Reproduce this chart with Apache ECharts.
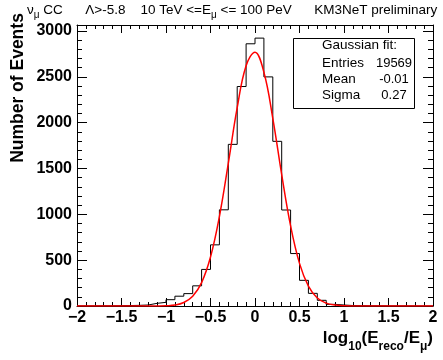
<!DOCTYPE html>
<html>
<head>
<meta charset="utf-8">
<script src="https://cdn.jsdelivr.net/npm/echarts@6/dist/echarts.min.js"></script>
<style>
  html, body { margin: 0; padding: 0; background: #fff; }
  #chart { width: 443px; height: 360px; }
</style>
</head>
<body>
<div id="chart"></div>
<script>
// histogram: 40 bins of 0.1 from -2 to 2
const binLow = -2;
const binWidth = 0.1;
const counts = [
  2, 2, 3, 3, 4, 5, 7, 11, 29, 40,
  69, 107, 135, 220, 399, 667, 1049, 1763, 2394, 2860,
  2922, 2499, 1796, 1047, 572, 280, 138, 62, 18, 11,
  5, 4, 3, 3, 2, 2, 2, 1, 1, 1
];

// red gaussian fit curve, every 0.1
const fitX = [
  -2, -1.5, -1.3, -1.2, -1.1, -1.0, -0.9, -0.8, -0.7, -0.6, -0.5, -0.4, -0.3, -0.2, -0.1,
  0, 0.1, 0.2, 0.3, 0.4, 0.5, 0.6, 0.7, 0.8, 0.9, 1.0, 1.1, 1.2, 1.3, 1.5, 2
];
const fitY = [
  0, 0, 0, 0.2, 1, 3, 10, 38, 106, 255, 534, 976, 1556, 2163, 2620,
  2768, 2549, 2047, 1433, 874, 465, 216, 87, 31, 10, 3, 1, 0.2, 0, 0, 0
];

// axes
const xMin = -2, xMax = 2, xStep = 0.5;
const yMin = 0, yMax = 3065, yStep = 500;

// stats box
const statsTitle = "Gaussian fit:";
const statsLabels = ["Entries", "Mean", "Sigma"];
const statsValues = ["19569", "-0.01", "0.27"];

const FONT = "Liberation Sans";

const histData = counts.map((c, i) => [+(binLow + i * binWidth).toFixed(2), c]);
histData.push([+(binLow + counts.length * binWidth).toFixed(2), counts[counts.length - 1]]);
const fitData = fitX.map((x, i) => [x, fitY[i]]);

// rich text with a dropped subscript
const subRich = (size, subSize, drop, weight) => ({
  m: { fontFamily: FONT, fontSize: size, fontWeight: weight, lineHeight: size, verticalAlign: "top", color: "#000" },
  s: { fontFamily: FONT, fontSize: subSize, fontWeight: weight, lineHeight: subSize, verticalAlign: "top", padding: [drop, 0, 0, 0], color: "#000" }
});

const axisCommon = (isX, show) => ({
  type: "value",
  min: isX ? xMin : yMin,
  max: isX ? xMax : yMax,
  interval: isX ? xStep : yStep,
  axisLine: { show: true, onZero: false, lineStyle: { color: "#000", width: 1 } },
  axisTick: { show: true, inside: true, length: isX ? 8 : 10, lineStyle: { color: "#000", width: 1 } },
  minorTick: { show: true, splitNumber: 5, length: isX ? 4 : 5, lineStyle: { color: "#000", width: 1 } },
  splitLine: { show: false },
  axisLabel: {
    show: show,
    margin: isX ? 4 : 5,
    color: "#000",
    fontFamily: FONT,
    fontSize: 16,
    fontWeight: "bold",
    formatter: (v) => {
      if (!isX && v % yStep !== 0) return "";
      return String(v).replace("-", "\u2212");
    }
  }
});

const graphic = [
  // top caption, one line
  {
    type: "text", left: 27, top: 3,
    style: {
      text: "{m|\u03bd}{s|\u03bc}{m| CC      \u039b>-5.8    10 TeV <=E}{s|\u03bc}{m| <= 100 PeV      KM3NeT preliminary}",
      rich: subRich(13.5, 10, 7, "normal")
    }
  },
  // axis titles
  {
    type: "text", right: 10, top: 330,
    style: { text: "{m|log}{s|10}{m|(E}{s|reco}{m|/E}{s|\u03bc}{m|)}", rich: subRich(17, 12, 11, "bold") }
  },
  {
    type: "text", x: 18, y: 88, rotation: Math.PI / 2,
    style: { text: "Number of Events", align: "center", verticalAlign: "middle", fontFamily: FONT, fontSize: 17.5, fontWeight: "bold", fill: "#000" }
  },
  // stats box
  { type: "rect", shape: { x: 293.5, y: 38.5, width: 121, height: 70 }, style: { fill: "#fff", stroke: "#000", lineWidth: 1 }, z: 10 },
  { type: "text", x: 322, y: 45, z: 11, style: { text: statsTitle, align: "left", verticalAlign: "middle", fontFamily: FONT, fontSize: 13.5, fill: "#000" } }
];
statsLabels.forEach((lab, i) => {
  const y = 63 + i * 16;
  graphic.push({ type: "text", x: 322, y: y, z: 11, style: { text: lab, align: "left", verticalAlign: "middle", fontFamily: FONT, fontSize: 13.5, fill: "#000" } });
  graphic.push({ type: "text", x: 394, y: y, z: 11, style: { text: statsValues[i], align: "center", verticalAlign: "middle", fontFamily: FONT, fontSize: 13, fill: "#000" } });
});

const option = {
  animation: false,
  backgroundColor: "#fff",
  grid: { left: 77, right: 10, top: 25, bottom: 54, containLabel: false, outerBoundsMode: "none", show: false },
  xAxis: [
    Object.assign(axisCommon(true, true), { position: "bottom" }),
    Object.assign(axisCommon(true, false), { position: "top" })
  ],
  yAxis: [
    Object.assign(axisCommon(false, true), { position: "left" }),
    Object.assign(axisCommon(false, false), { position: "right" })
  ],
  graphic: graphic,
  series: [
    {
      name: "hist",
      type: "line",
      step: "end",
      data: histData,
      showSymbol: false,
      lineStyle: { color: "#000", width: 1 },
      z: 2
    },
    {
      name: "fit",
      type: "line",
      smooth: 0.4,
      data: fitData,
      showSymbol: false,
      lineStyle: { color: "#ff0000", width: 1.5 },
      z: 3
    }
  ]
};

const myChart = echarts.init(document.getElementById("chart"));
myChart.setOption(option);
</script>
</body>
</html>
